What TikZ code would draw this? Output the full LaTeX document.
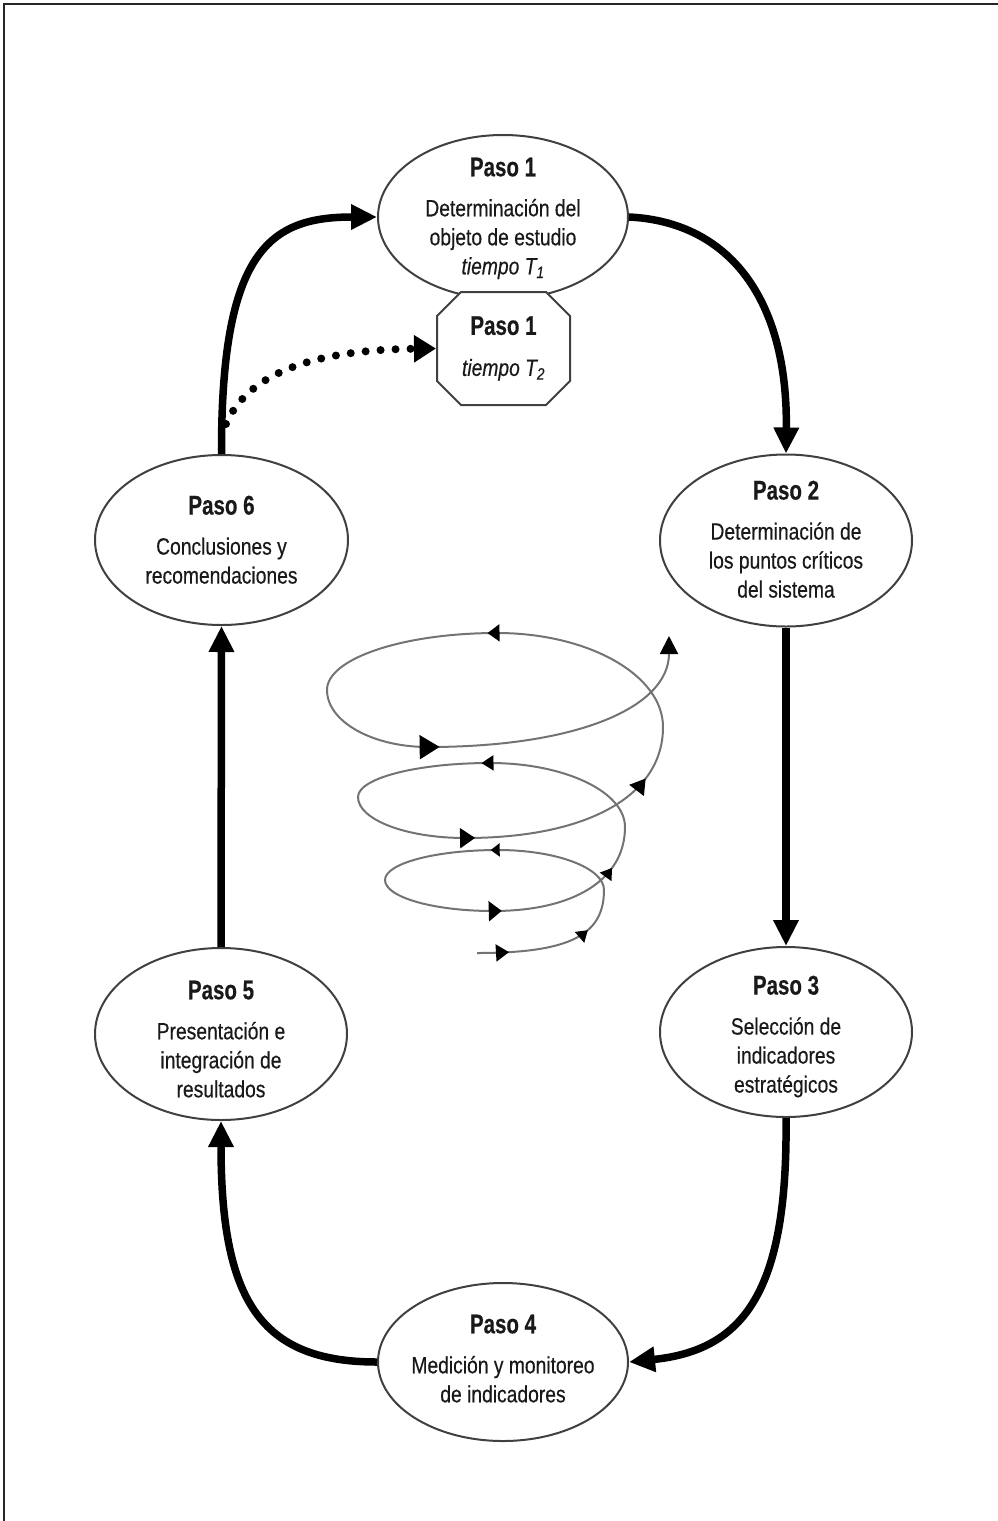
\documentclass[tikz,border=0pt]{standalone}
\usepackage{fontspec}
\setmainfont{Liberation Sans}[FakeStretch=0.82, FakeBold=0.4]
\newfontfamily\titlefont{Liberation Sans}[FakeStretch=0.76, FakeBold=0.4]
\usetikzlibrary{arrows.meta,shapes.geometric,shapes.misc,decorations.markings}

% bold heading of each step
\newcommand{\pasotitle}[1]{{\titlefont\bfseries\fontsize{27}{29}\selectfont #1}}

\begin{document}
\begin{tikzpicture}[x=1pt,y=-1pt,
  stepoval/.style={ellipse, draw=black!75, line width=2pt, fill=white,
    inner sep=0pt, minimum width=252pt, minimum height=172pt},
  steptext/.style={align=center, inner sep=0pt, anchor=north, text=black!90,
    font=\fontsize{23.5}{29}\selectfont},
  octabox/.style={chamfered rectangle, chamfered rectangle xsep=12pt,
    chamfered rectangle ysep=12pt, draw=black!75, line width=2pt, fill=white,
    inner sep=0pt, minimum width=133pt, minimum height=113pt, align=center,
    text=black!90, font=\fontsize{23.5}{29}\selectfont},
  flow/.style={line width=7.5pt, -{Triangle[length=26pt,width=24pt]}},
  dotflow/.style={line width=8pt, line cap=round, dash pattern=on 0pt off 15pt,
    -{Triangle[length=22pt,width=26pt]}},
  spiral/.style={draw=black!55, line width=2pt},
  marks/.style={postaction={decorate}, decoration={markings, #1}},
  frameline/.style={draw=black!85, line width=2.5pt}
]
\useasboundingbox (0,0) rectangle (998,1521);

% page frame (top and left edges)
\draw[frameline] (4,1521) -- (4,4) -- (998,4);

% the six steps
\node[stepoval, minimum width=250pt, minimum height=164pt] (p1) at (503,217) {};
\node[stepoval] (p2) at (786,540.5) {};
\node[stepoval, minimum height=170pt] (p3) at (786,1032) {};
\node[stepoval, minimum width=250pt, minimum height=158pt] (p4) at (503,1362) {};
\node[stepoval] (p5) at (221,1034) {};
\node[stepoval, minimum width=253pt, minimum height=170pt] (p6) at (221.5,540) {};

\node[steptext] (p1t) at (503,157.5) {\pasotitle{Paso 1}\\[11pt]
  Determinación del\\ objeto de estudio\\ \textit{tiempo T\textsubscript{1}}};
\node[steptext] (p2t) at (786,480.5) {\pasotitle{Paso 2}\\[11pt]
  Determinación de\\ los puntos críticos\\ del sistema};
\node[steptext] (p3t) at (786,975.5) {\pasotitle{Paso 3}\\[11pt]
  Selección de\\ indicadores\\ estratégicos};
\node[steptext] (p4t) at (503,1314.5) {\pasotitle{Paso 4}\\[11pt]
  Medición y monitoreo\\ de indicadores};
\node[steptext] (p5t) at (221,980.5) {\pasotitle{Paso 5}\\[11pt]
  Presentación e\\ integración de\\ resultados};
\node[steptext] (p6t) at (221.5,495.5) {\pasotitle{Paso 6}\\[11pt]
  Conclusiones y\\ recomendaciones};

% the repeated first step, later in time
\node[octabox] (p1b) at (503.5,348.5) {\pasotitle{Paso 1}\\[12pt]
  \textit{tiempo T\textsubscript{2}}};

% main cycle
\draw[flow] (p1.east) .. controls (730,222) and (788,300) .. (p2.north);
\draw[flow] (p2.south) -- (p3.north);
\draw[flow] (p3.south) .. controls (788,1290) and (745,1350) .. (p4.east);
\draw[flow] (p4.west) .. controls (260,1362) and (221,1300) .. (p5.south);
\draw[flow] (p5.north) -- (p6.south);
\draw[flow] (p6.north) .. controls (221,250) and (270,217) .. (p1.west);

% dotted return to the next iteration
\coordinate (dotstart) at (226,424);
\draw[dotflow] (dotstart) .. controls (245,380) and (300,350) .. (p1b.west);

% widening spiral in the centre
\draw[spiral, marks={
    mark=at position 0.2 with {\arrow[black]{Triangle[length=13pt,width=17pt]}},
    mark=at position 0.72 with {\arrow[black]{Triangle[length=11pt,width=14pt]}}}]
  (477,953) .. controls (570,953) and (604,935) .. (604,890);
\draw[spiral] (604,890) .. controls (604,867.9) and (556.5,850) .. (498,850);
\draw[spiral, marks={
    mark=at position 0.06 with {\arrow[black]{Triangle[length=9pt,width=13pt]}}}]
  (498,850) .. controls (435.6,850) and (385,863.4) .. (385,880);
\draw[spiral] (385,880) .. controls (385,897.1) and (433.4,911) .. (493,911);
\draw[spiral, marks={
    mark=at position 0.05 with {\arrow[black]{Triangle[length=13pt,width=20pt]}},
    mark=at position 0.75 with {\arrow[black]{Triangle[length=11pt,width=14pt]}}}]
  (493,911) .. controls (574.8,911) and (625,879.1) .. (625,827);
\draw[spiral] (625,827) .. controls (625,791.7) and (564.5,763) .. (490,763);
\draw[spiral, marks={
    mark=at position 0.06 with {\arrow[black]{Triangle[length=12pt,width=15pt]}}}]
  (490,763) .. controls (417.1,763) and (358,778.2) .. (358,797);
\draw[spiral] (358,797) .. controls (358,819.6) and (405.9,838) .. (465,838);
\draw[spiral, marks={
    mark=at position 0.04 with {\arrow[black]{Triangle[length=15pt,width=20pt]}},
    mark=at position 0.78 with {\arrow[black]{Triangle[length=15pt,width=18pt]}}}]
  (465,838) .. controls (587.8,838) and (663,795.8) .. (663,727);
\draw[spiral] (663,727) .. controls (663,675.1) and (588.6,633) .. (497,633);
\draw[spiral, marks={
    mark=at position 0.05 with {\arrow[black]{Triangle[length=12pt,width=17pt]}}}]
  (497,633) .. controls (403.2,633) and (327,658.5) .. (327,690);
\draw[spiral] (327,690) .. controls (327,721.5) and (372.2,747) .. (428,747);
\draw[spiral, marks={
    mark=at position 0.04 with {\arrow[black]{Triangle[length=20pt,width=24pt]}}},
    -{Triangle[length=18pt,width=18pt,black]}]
  (428,747) .. controls (576.8,747) and (669,707.5) .. (669,636);

\end{tikzpicture}
\end{document}
